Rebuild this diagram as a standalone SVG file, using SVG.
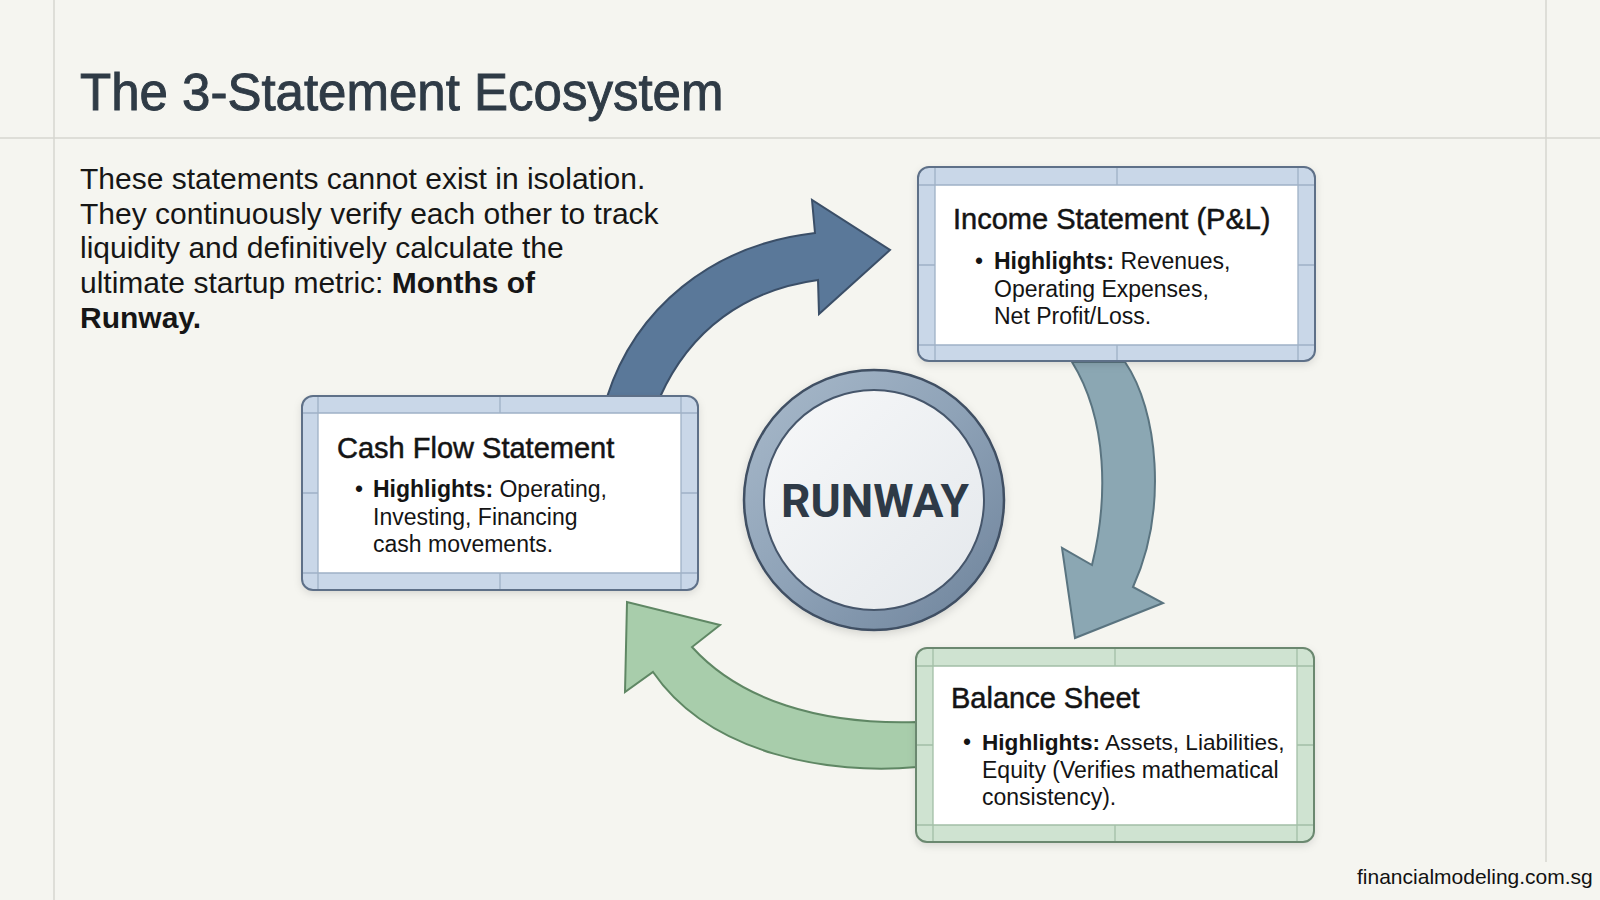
<svg xmlns="http://www.w3.org/2000/svg" width="1600" height="900" viewBox="0 0 1600 900">
<defs>
<style>
.bg-line{stroke:#d6d6d1;stroke-width:1.5;fill:none}
.title{font-family:"Liberation Sans",Arial,sans-serif;font-size:51px;fill:#2f3b46;stroke:#2f3b46;stroke-width:0.9}
.para{font-family:"Liberation Sans",Arial,sans-serif;font-size:30px;fill:#161616}
.btitle{font-family:"Liberation Sans",Arial,sans-serif;font-size:29px;fill:#141414;stroke:#141414;stroke-width:0.5}
.btext{font-family:"Liberation Sans",Arial,sans-serif;font-size:23px;fill:#141414}
.b{font-weight:bold}
.band-blue{fill:#c9d7e8;stroke:none}
.band-green{fill:#cfe3d1;stroke:none}
.outer-blue{fill:none;stroke:#5e7088;stroke-width:2}
.outer-green{fill:none;stroke:#6b8870;stroke-width:2}
.inner{fill:#ffffff}
.grid-blue{fill:none;stroke:#9fb1c6;stroke-width:1.3}
.grid-green{fill:none;stroke:#a3bfa7;stroke-width:1.3}
.runway{font-family:Roboto,"Liberation Sans",Arial,sans-serif;font-weight:700;font-size:46px;fill:#2e3a47}
.wm{font-family:"Liberation Sans",Arial,sans-serif;font-size:21px;fill:#111111}
</style>
<filter id="shadow" x="-10%" y="-10%" width="120%" height="130%">
<feDropShadow dx="0" dy="3" stdDeviation="4" flood-color="#000000" flood-opacity="0.14"/>
</filter>
<linearGradient id="ring" x1="0" y1="0" x2="1" y2="1">
<stop offset="0" stop-color="#a9bacb"/>
<stop offset="0.5" stop-color="#8ea2b7"/>
<stop offset="1" stop-color="#6d829a"/>
</linearGradient>
<linearGradient id="disc" x1="0" y1="0" x2="1" y2="1">
<stop offset="0" stop-color="#f7f8f9"/>
<stop offset="1" stop-color="#e4e8ec"/>
</linearGradient>
</defs>

<rect width="1600" height="900" fill="#f5f5f0"/>
<g id="background-grid">
<line class="bg-line" x1="54" y1="0" x2="54" y2="900"/>
<line class="bg-line" x1="1546" y1="0" x2="1546" y2="862"/>
<line class="bg-line" x1="0" y1="138" x2="1600" y2="138"/>
</g>

<g id="heading">
<text class="title" x="80" y="110">The 3-Statement Ecosystem</text>
<text class="para" x="80" y="189">These statements cannot exist in isolation.</text>
<text class="para" x="80" y="224">They continuously verify each other to track</text>
<text class="para" x="80" y="258">liquidity and definitively calculate the</text>
<text class="para" x="80" y="293">ultimate startup metric: <tspan class="b">Months of</tspan></text>
<text class="para b" x="80" y="328">Runway.</text>
</g>

<g id="connectors">
<path id="arrow-cf-to-is" d="M607,397 C635,310 710,245 815,233 L812,200 L890,250 L819,314 L818,280 C745,290 690,330 660,397 Z" fill="#5a7899" stroke="#3b4f68" stroke-width="2" stroke-linejoin="miter"/>
<path id="arrow-is-to-bs" d="M1072,362 L1125,362 C1158,410 1168,510 1133,587 L1163,603 L1075,638 L1062,548 L1092,565 C1108,500 1108,420 1072,362 Z" fill="#8ba7b3" stroke="#5a7480" stroke-width="2"/>
<path id="arrow-bs-to-cf" d="M917,722 C820,725 740,700 692,647 L720,625 L627,602 L625,692 L653,672 C710,755 830,775 917,767 Z" fill="#a8cdab" stroke="#5f8764" stroke-width="2"/>
</g>

<g id="income-statement">
<g filter="url(#shadow)"><rect class="band-blue" x="918" y="167" width="397" height="194" rx="11"/></g>
<rect class="inner" x="935" y="185" width="363" height="160"/>
<path class="grid-blue" d="M935,167 V361 M1298,167 V361 M918,185 H1315 M918,345 H1315 M1117,167 V185 M1117,345 V361 M918,265 H935 M1298,265 H1315"/>
<rect class="outer-blue" x="918" y="167" width="397" height="194" rx="11"/>
<text class="btitle" x="953" y="229">Income Statement (P&amp;L)</text>
<text class="btext" x="975" y="269">•</text>
<text class="btext" x="994" y="269"><tspan class="b">Highlights:</tspan> Revenues,</text>
<text class="btext" x="994" y="297">Operating Expenses,</text>
<text class="btext" x="994" y="324">Net Profit/Loss.</text>
</g>

<g id="cash-flow-statement">
<g filter="url(#shadow)"><rect class="band-blue" x="302" y="396" width="396" height="194" rx="11"/></g>
<rect class="inner" x="318" y="413" width="363" height="160"/>
<path class="grid-blue" d="M318,396 V590 M681,396 V590 M302,413 H698 M302,573 H698 M500,396 V413 M500,573 V590 M302,493 H318 M681,493 H698"/>
<rect class="outer-blue" x="302" y="396" width="396" height="194" rx="11"/>
<text class="btitle" x="337" y="458">Cash Flow Statement</text>
<text class="btext" x="355" y="497">•</text>
<text class="btext" x="373" y="497"><tspan class="b">Highlights:</tspan> Operating,</text>
<text class="btext" x="373" y="525">Investing, Financing</text>
<text class="btext" x="373" y="552">cash movements.</text>
</g>

<g id="balance-sheet">
<g filter="url(#shadow)"><rect class="band-green" x="916" y="648" width="398" height="194" rx="11"/></g>
<rect class="inner" x="933" y="666" width="364" height="159"/>
<path class="grid-green" d="M933,648 V842 M1297,648 V842 M916,666 H1314 M916,825 H1314 M1115,648 V666 M1115,825 V842 M916,745 H933 M1297,745 H1314"/>
<rect class="outer-green" x="916" y="648" width="398" height="194" rx="11"/>
<text class="btitle" x="951" y="708">Balance Sheet</text>
<text class="btext" x="963" y="750">•</text>
<text class="btext" x="982" y="750" style="font-size:22.6px"><tspan class="b">Highlights:</tspan> Assets, Liabilities,</text>
<text class="btext" x="982" y="778">Equity (Verifies mathematical</text>
<text class="btext" x="982" y="805">consistency).</text>
</g>

<g id="runway">
<circle cx="874" cy="500" r="130" fill="url(#ring)" stroke="#3f4f63" stroke-width="2.5" filter="url(#shadow)"/>
<circle cx="874" cy="500" r="110" fill="url(#disc)" stroke="#46566b" stroke-width="2"/>
<text class="runway" x="875" y="517" text-anchor="middle">RUNWAY</text>
</g>

<g id="watermark">
<text class="wm" x="1357" y="884">financialmodeling.com.sg</text>
</g>
</svg>
